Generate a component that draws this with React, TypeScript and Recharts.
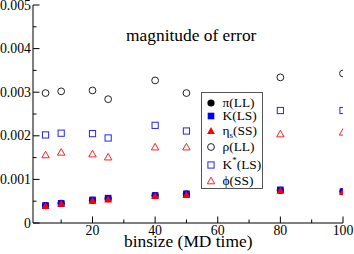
import { ScatterChart, Scatter, XAxis, YAxis } from 'recharts';

// binsize values (MD time) and the error magnitude for each quantity
const binsize = [5, 10, 20, 25, 40, 50, 80, 100];
const piLL = [0.00040, 0.00045, 0.00052, 0.00056, 0.00063, 0.00066, 0.00075, 0.00072];
const kLS = [0.00040, 0.00045, 0.00053, 0.00057, 0.00063, 0.00067, 0.00076, 0.00072];
const etaSS = [0.00039, 0.00044, 0.00051, 0.00054, 0.00062, 0.00064, 0.00074, 0.00071];
const rhoLL = [0.00298, 0.00302, 0.00304, 0.00284, 0.00327, 0.00298, 0.00334, 0.00343];
const kStarLS = [0.00202, 0.00206, 0.00205, 0.00195, 0.00224, 0.00211, 0.00258, 0.00258];
const phiSS = [0.00156, 0.00162, 0.00158, 0.00151, 0.00174, 0.00174, 0.00204, 0.00208];

const xTicks = [10, 20, 30, 40, 50, 60, 70, 80, 90, 100];
const xLabelTicks = [20, 40, 60, 80, 100];
const yTicks = [0, 0.0005, 0.001, 0.0015, 0.002, 0.0025, 0.003, 0.0035, 0.004, 0.0045, 0.005];
const yLabelTicks = [0, 0.001, 0.002, 0.003, 0.004, 0.005];

const FONT = '"Liberation Serif", "Times New Roman", serif';
const MAJOR = 6.5;
const MINOR = 3.5;

const toPoints = (ys: number[]) => binsize.map((x, i) => ({ x, y: ys[i] }));

const isMajor = (v: number, list: number[]) => list.some((t) => Math.abs(t - v) < 1e-9);

const fmtY = (v: number) => (v === 0 ? '0' : v.toFixed(3));

// marker shapes
const FilledCircle = (p: any) => <circle cx={p.cx} cy={p.cy} r={3.6} fill="#000" />;
const FilledSquare = (p: any) => <rect x={p.cx - 3.3} y={p.cy - 3.3} width={6.6} height={6.6} fill="#0000ff" />;
const FilledTriangle = (p: any) => (
  <polygon points={`${p.cx},${p.cy - 4} ${p.cx - 3.9},${p.cy + 3} ${p.cx + 3.9},${p.cy + 3}`} fill="#ff0000" />
);
const OpenCircle = (p: any) => <circle cx={p.cx} cy={p.cy} r={3.4} fill="none" stroke="#222" strokeWidth={1} />;
const OpenSquare = (p: any) => (
  <rect x={p.cx - 3.1} y={p.cy - 3.1} width={6.2} height={6.2} fill="none" stroke="#2222ff" strokeWidth={1} />
);
const OpenTriangle = (p: any) => (
  <polygon
    points={`${p.cx},${p.cy - 3.8} ${p.cx - 3.7},${p.cy + 2.8} ${p.cx + 3.7},${p.cy + 2.8}`}
    fill="none"
    stroke="#ff2222"
    strokeWidth={1}
  />
);

const BottomTick = (props: any) => {
  const { x, y, payload } = props;
  const major = isMajor(payload.value, xLabelTicks);
  return (
    <g>
      <line x1={x} y1={y} x2={x} y2={y - (major ? MAJOR : MINOR)} stroke="#000" />
      {major && (
        <text x={x} y={y + 11.5} textAnchor="middle" fontSize={13.8} fontFamily={FONT} fill="#000">
          {payload.value}
        </text>
      )}
    </g>
  );
};

const TopTick = (props: any) => {
  const { x, y, payload } = props;
  const major = isMajor(payload.value, xLabelTicks);
  return <line x1={x} y1={y} x2={x} y2={y + (major ? MAJOR : MINOR)} stroke="#000" />;
};

const LeftTick = (props: any) => {
  const { x, y, payload } = props;
  const major = isMajor(payload.value, yLabelTicks);
  return (
    <g>
      <line x1={x} y1={y} x2={x + (major ? MAJOR : MINOR)} y2={y} stroke="#000" />
      {major && (
        <text x={x - 2} y={y + 4.6} textAnchor="end" fontSize={13.8} fontFamily={FONT} fill="#000">
          {fmtY(payload.value)}
        </text>
      )}
    </g>
  );
};

const RightTick = (props: any) => {
  const { x, y, payload } = props;
  const major = isMajor(payload.value, yLabelTicks);
  return <line x1={x} y1={y} x2={x - (major ? MAJOR : MINOR)} y2={y} stroke="#000" />;
};

const subStyle = { fontSize: 9, position: 'relative' as const, top: 3 };
const supStyle = { fontSize: 9, position: 'relative' as const, top: -6 };

const legendItems = [
  { shape: FilledCircle, label: <>π(LL)</>, top: 10.4 },
  { shape: FilledSquare, label: <>K(LS)</>, top: 22.7 },
  { shape: FilledTriangle, label: <>η<span style={subStyle}>s</span>(SS)</>, top: 38.4 },
  { shape: OpenCircle, label: <>ρ(LL)</>, top: 54.4 },
  { shape: OpenSquare, label: <>K<span style={supStyle}>*</span>(LS)</>, top: 72.4 },
  { shape: OpenTriangle, label: <>ϕ(SS)</>, top: 87.7 },
];

const LegendBox = () => (
  <div
    style={{
      position: 'absolute',
      left: 200.5,
      top: 92,
      width: 62,
      height: 97,
      border: '1px solid #555',
      background: '#fff',
      boxSizing: 'border-box',
      fontFamily: FONT,
      fontSize: 13.4,
    }}
  >
    {legendItems.map((item, i) => {
      const Shape = item.shape;
      return (
        <div key={i}>
          <svg width={12} height={12} style={{ position: 'absolute', left: 3, top: item.top - 6 }}>
            <Shape cx={6} cy={6} />
          </svg>
          <div style={{ position: 'absolute', left: 21, top: item.top - 8, lineHeight: '16px', whiteSpace: 'nowrap' }}>
            {item.label}
          </div>
        </div>
      );
    })}
  </div>
);

const App = () => {
  return (
    <div style={{ position: 'absolute', left: 0, top: 0, width: 354, height: 254, background: '#fff' }}>
      <ScatterChart width={354} height={254} margin={{ top: 5, right: 11, left: 0, bottom: 0 }}>
        <XAxis
          xAxisId={0}
          dataKey="x"
          type="number"
          domain={[1, 100]}
          allowDataOverflow
          ticks={xTicks}
          height={31}
          tickSize={0}
          tickMargin={0}
          tickLine={false}
          axisLine={{ stroke: '#000' }}
          tick={BottomTick}
          interval={0}
        />
        <XAxis
          xAxisId="top"
          orientation="top"
          dataKey="x"
          type="number"
          domain={[1, 100]}
          allowDataOverflow
          ticks={xTicks}
          height={0}
          tickSize={0}
          tickMargin={0}
          tickLine={false}
          axisLine={{ stroke: '#000' }}
          tick={TopTick}
          interval={0}
        />
        <YAxis
          yAxisId={0}
          dataKey="y"
          type="number"
          domain={[0, 0.005]}
          allowDataOverflow
          ticks={yTicks}
          width={33}
          tickSize={0}
          tickMargin={0}
          tickLine={false}
          axisLine={{ stroke: '#000' }}
          tick={LeftTick}
          interval={0}
        />
        <YAxis
          yAxisId="right"
          orientation="right"
          dataKey="y"
          type="number"
          domain={[0, 0.005]}
          allowDataOverflow
          ticks={yTicks}
          width={0}
          tickSize={0}
          tickMargin={0}
          tickLine={false}
          axisLine={{ stroke: '#000' }}
          tick={RightTick}
          interval={0}
        />
        <Scatter data={toPoints(piLL)} shape={FilledCircle} isAnimationActive={false} />
        <Scatter data={toPoints(kLS)} shape={FilledSquare} isAnimationActive={false} />
        <Scatter data={toPoints(etaSS)} shape={FilledTriangle} isAnimationActive={false} />
        <Scatter data={toPoints(rhoLL)} shape={OpenCircle} isAnimationActive={false} />
        <Scatter data={toPoints(kStarLS)} shape={OpenSquare} isAnimationActive={false} />
        <Scatter data={toPoints(phiSS)} shape={OpenTriangle} isAnimationActive={false} />
      </ScatterChart>
      <div
        style={{
          position: 'absolute',
          left: 126,
          top: 27,
          fontFamily: FONT,
          fontSize: 17.4,
          lineHeight: '17.4px',
          whiteSpace: 'nowrap',
        }}
      >
        magnitude of error
      </div>
      <div
        style={{
          position: 'absolute',
          left: 124,
          top: 233.4,
          fontFamily: FONT,
          fontSize: 17.4,
          lineHeight: '17.4px',
          whiteSpace: 'nowrap',
        }}
      >
        binsize (MD time)
      </div>
      <LegendBox />
    </div>
  );
};

export default App;
